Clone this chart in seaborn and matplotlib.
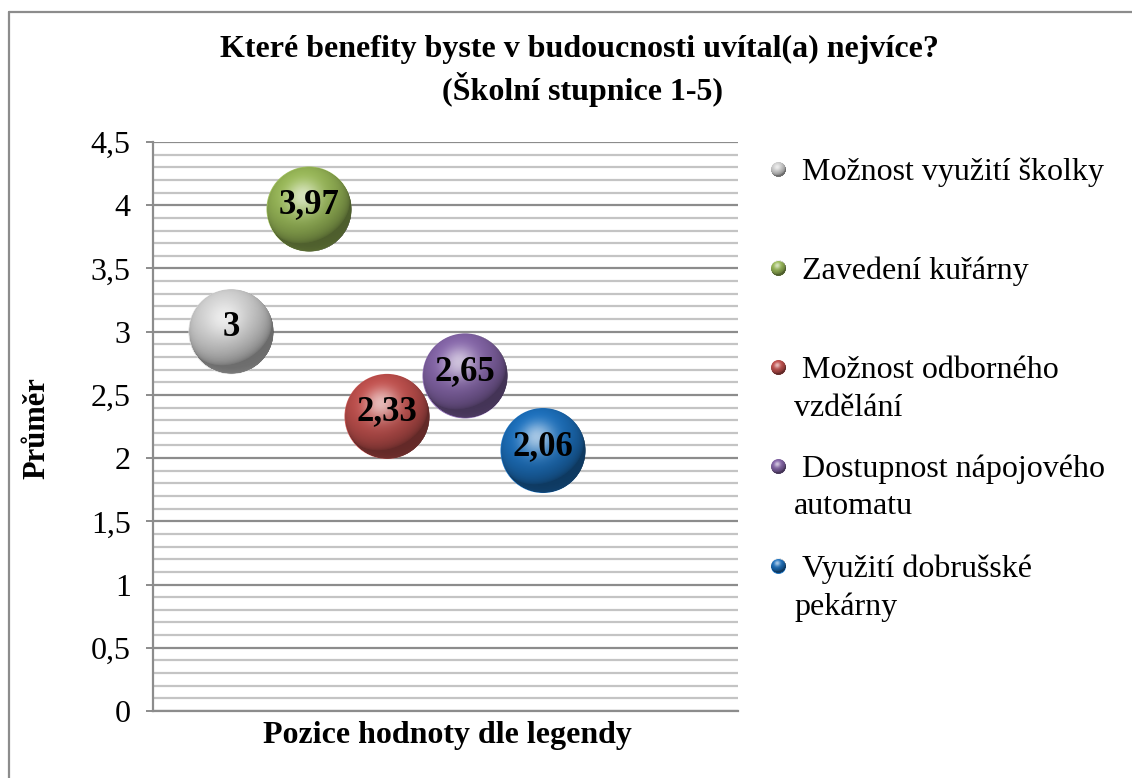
import numpy as np
import pandas as pd
import matplotlib
matplotlib.use("Agg")
import matplotlib.pyplot as plt
import seaborn as sns
from matplotlib.offsetbox import OffsetImage, AnnotationBbox
from matplotlib.ticker import MultipleLocator, FuncFormatter
from matplotlib.lines import Line2D

# ---- data -------------------------------------------------------------
benefits = [
    "Možnost využití školky",
    "Zavedení kuřárny",
    "Možnost odborného vzdělání",
    "Dostupnost nápojového automatu",
    "Využití dobrušské pekárny",
]
legend_lines = [
    ["Možnost využití školky"],
    ["Zavedení kuřárny"],
    ["Možnost odborného", "vzdělání"],
    ["Dostupnost nápojového", "automatu"],
    ["Využití dobrušské", "pekárny"],
]
positions = [1, 2, 3, 4, 5]
means = [3.00, 3.97, 2.33, 2.65, 2.06]
colors = ["#d6d6d6", "#9bbb59", "#c4524f", "#8767ab", "#1d72c0"]

title_lines = ["Které benefity byste v budoucnosti uvítal(a) nejvíce?",
               "(Školní stupnice 1-5)"]
x_label = "Pozice hodnoty dle legendy"
y_label = "Průměr"

df = pd.DataFrame({"benefit": benefits, "pos": positions, "mean": means})

# ---- style ------------------------------------------------------------
sns.set_style("white")
plt.rcParams["font.family"] = ["Liberation Serif", "DejaVu Serif"]
plt.rcParams["text.color"] = "black"
plt.rcParams["ytick.color"] = "black"
plt.rcParams["axes.labelcolor"] = "black"
GRID_MAJOR = "#8c8c8c"
GRID_MINOR = "#c4c4c4"

W, H, DPI = 1132, 778, 100
fig = plt.figure(figsize=(W / DPI, H / DPI), dpi=DPI)
fig.patch.set_facecolor("white")


def px_axes(l, t, r, b):
    return [l / W, 1 - b / H, (r - l) / W, (b - t) / H]


ax = fig.add_axes(px_axes(153, 142, 738, 711))


def comma(v, _=None):
    return ("%g" % v).replace(".", ",")


def sphere_overlay(n=300, light=(-0.3, 0.6, 0.75)):
    """RGBA layer that turns a flat disc into a glossy sphere."""
    yy, xx = np.mgrid[1:-1:n * 1j, -1:1:n * 1j]
    r = np.sqrt(xx ** 2 + yy ** 2)
    z = np.sqrt(np.clip(1 - r ** 2, 0, 1))
    L = np.array(light, float)
    L /= np.linalg.norm(L)
    d = np.clip(xx * L[0] + yy * L[1] + z * L[2], 0, 1)
    f = 0.50 + 0.50 * d ** 0.6
    # faint bounce light along the lower rim
    f += 0.12 * np.clip(-yy, 0, 1) ** 3 * (1 - z) ** 2
    f = np.clip(f, 0, 1)
    Hv = L + np.array([0, 0, 1.0])
    Hv /= np.linalg.norm(Hv)
    s = np.clip(xx * Hv[0] + yy * Hv[1] + z * Hv[2], 0, 1)
    s = 0.6 * s ** 12
    a = 1 - f * (1 - s)
    c = np.where(a > 1e-6, s / np.maximum(a, 1e-6), 0)
    c = np.clip(c, 0, 1)
    edge = np.clip((1 - r) * n / 2.5, 0, 1)
    img = np.zeros((n, n, 4))
    img[..., 0] = img[..., 1] = img[..., 2] = c
    img[..., 3] = a * edge
    return img


SHADE = sphere_overlay()

# ---- bubbles ------------------------------------------------------------
bubble_px = 85
bubble_pt = bubble_px * 72 / DPI
sns.scatterplot(data=df, x="pos", y="mean", hue="benefit", palette=colors,
                hue_order=benefits, s=bubble_pt ** 2, linewidth=0,
                legend=False, ax=ax, zorder=3)

for xp, yv in zip(df["pos"], df["mean"]):
    ab = AnnotationBbox(OffsetImage(SHADE, zoom=bubble_pt / SHADE.shape[0]),
                        (xp, yv), frameon=False, pad=0, zorder=4)
    ax.add_artist(ab)
    ax.text(xp, yv + 0.035, comma(yv), ha="center", va="center",
            fontsize=25, fontweight="bold", color="black", zorder=5)

# ---- axes -------------------------------------------------------------
ax.set_xlim(0, 7.5)
ax.set_ylim(0, 4.5)
ax.yaxis.set_major_locator(MultipleLocator(0.5))
ax.yaxis.set_minor_locator(MultipleLocator(0.1))
ax.yaxis.set_major_formatter(FuncFormatter(comma))
ax.set_xticks([])
ax.grid(axis="y", which="major", color=GRID_MAJOR, linewidth=1.6, zorder=0)
ax.grid(axis="y", which="minor", color=GRID_MINOR, linewidth=1.6, zorder=0)
ax.set_axisbelow(True)
ax.tick_params(axis="y", which="major", direction="out", length=5, width=1.4,
               color=GRID_MAJOR, labelcolor="black", labelsize=23, pad=11,
               left=True)
ax.tick_params(axis="y", which="minor", length=0)
for side in ("top", "right"):
    ax.spines[side].set_visible(False)
for side in ("left", "bottom"):
    ax.spines[side].set_color(GRID_MAJOR)
    ax.spines[side].set_linewidth(1.6)
ax.set_xlabel("")
ax.set_ylabel("")

# ---- overlay in pixel coordinates: frame, titles, legend ----------------
ov = fig.add_axes([0, 0, 1, 1])
ov.set_xlim(0, W)
ov.set_ylim(H, 0)
ov.axis("off")
ov.patch.set_alpha(0)

ov.add_line(Line2D([9, W], [12, 12], color=GRID_MAJOR, linewidth=1.6))
ov.add_line(Line2D([9, 9], [12, H], color=GRID_MAJOR, linewidth=1.6))

ov.text(579, 49, title_lines[0], ha="center", va="center", fontsize=23,
        fontweight="bold")
ov.text(582, 89, title_lines[1], ha="center", va="center", fontsize=23,
        fontweight="bold")
ov.text(447, 736, x_label, ha="center", va="center", fontsize=23,
        fontweight="bold")
ov.text(37, 428, y_label, ha="center", va="center", fontsize=22,
        fontweight="bold", rotation=90)

entry_y = [172, 271, 370, 469, 569]
mark_px = 15
mark_pt = mark_px * 72 / DPI
for lines, col, ey in zip(legend_lines, colors, entry_y):
    ov.scatter([778], [ey - 3], s=mark_pt ** 2, color=col, linewidth=0, zorder=3)
    ov.add_artist(AnnotationBbox(OffsetImage(SHADE, zoom=mark_pt / SHADE.shape[0]),
                                 (778, ey - 3), frameon=False, pad=0, zorder=4))
    ov.text(802, ey, lines[0], ha="left", va="center", fontsize=23)
    if len(lines) > 1:
        ov.text(794, ey + 38, lines[1], ha="left", va="center", fontsize=23)

fig.savefig("out.png", dpi=DPI, facecolor="white")
